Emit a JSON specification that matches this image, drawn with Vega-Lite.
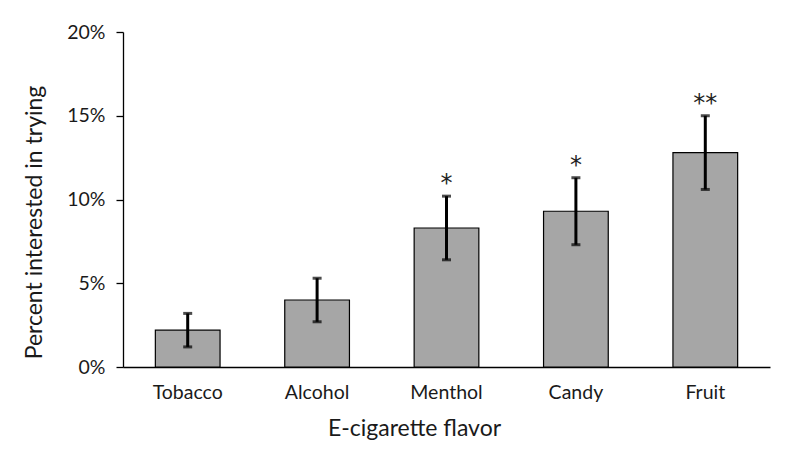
{
  "$schema": "https://vega.github.io/schema/vega-lite/v6.json",
  "width": 647,
  "height": 335,
  "autosize": {"type": "none"},
  "padding": {"left": 123, "top": 32, "right": 30, "bottom": 107},
  "background": "white",
  "data": {
    "values": [
      {"flavor": "Tobacco", "pct": 0.022, "lo": 0.012, "hi": 0.032, "sig": ""},
      {"flavor": "Alcohol", "pct": 0.040, "lo": 0.027, "hi": 0.053, "sig": ""},
      {"flavor": "Menthol", "pct": 0.083, "lo": 0.064, "hi": 0.102, "sig": "*"},
      {"flavor": "Candy", "pct": 0.093, "lo": 0.073, "hi": 0.113, "sig": "*"},
      {"flavor": "Fruit", "pct": 0.128, "lo": 0.106, "hi": 0.150, "sig": "**"}
    ]
  },
  "encoding": {
    "x": {
      "field": "flavor",
      "type": "nominal",
      "sort": null,
      "scale": {"paddingInner": 0.5, "paddingOuter": 0.25},
      "axis": {
        "title": "E-cigarette flavor",
        "labelAngle": 0,
        "ticks": false,
        "labelPadding": 16,
        "titlePadding": 16,
        "titleX": 291
      }
    }
  },
  "layer": [
    {
      "mark": {"type": "bar", "fill": "#a6a6a6", "stroke": "black", "strokeWidth": 1.2},
      "encoding": {
        "y": {
          "field": "pct",
          "type": "quantitative",
          "scale": {"domain": [0, 0.2]},
          "axis": {
            "title": "Percent interested in trying",
            "format": ".0%",
            "values": [0, 0.05, 0.1, 0.15, 0.2],
            "tickSize": 7,
            "labelPadding": 11,
            "titlePadding": 20,
            "titleY": 190
          }
        }
      }
    },
    {
      "mark": {"type": "rule", "color": "black", "strokeWidth": 3},
      "encoding": {
        "y": {"field": "lo", "type": "quantitative"},
        "y2": {"field": "hi"}
      }
    },
    {
      "mark": {"type": "tick", "color": "black", "thickness": 3, "size": 9},
      "encoding": {"y": {"field": "lo", "type": "quantitative"}}
    },
    {
      "mark": {"type": "tick", "color": "black", "thickness": 3, "size": 9},
      "encoding": {"y": {"field": "hi", "type": "quantitative"}}
    },
    {
      "mark": {"type": "text", "fontSize": 24, "dy": -12, "color": "#222", "baseline": "middle", "font": "DejaVu Sans"},
      "encoding": {
        "y": {"field": "hi", "type": "quantitative"},
        "text": {"field": "sig"}
      }
    }
  ],
  "config": {
    "font": "Lato",
    "view": {"stroke": null},
    "axis": {
      "domainColor": "black",
      "domainWidth": 1.3,
      "tickColor": "black",
      "tickWidth": 1.3,
      "grid": false,
      "labelFont": "Lato",
      "labelFontSize": 19.5,
      "labelColor": "#1a1a1a",
      "titleFont": "Lato",
      "titleFontSize": 23,
      "titleFontWeight": "normal",
      "titleColor": "#1a1a1a"
    }
  }
}
